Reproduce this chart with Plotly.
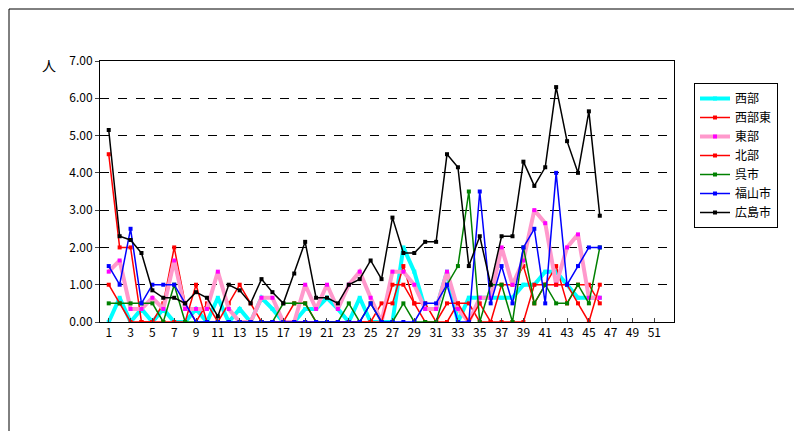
import plotly.graph_objects as go

weeks = list(range(1, 47))
seibu = [0,0.65,0,0.35,0,0.35,0,0,0.35,0,0.65,0,0.35,0,0.65,0.35,0,0,0.35,0.35,0.65,0.35,0,0.65,0,0,0,2.0,1.35,0.35,0.35,1.35,0,0.65,0.65,0.65,0.65,0.65,1.0,1.0,1.35,1.35,1.0,0.65,0.65,0.65]
seibuhigashi = [4.5,2.0,2.0,0,0,0.5,2.0,0.5,0,0.5,0,0.5,1.0,0.5,0,0,0,0.5,0.5,0,0,0,0,0,0,0.5,0.5,1.5,0.5,0.5,0,0,0.5,0.5,0,0,1.0,1.0,1.5,0.5,1.0,1.5,0.5,1.0,1.0,0.5]
toubu = [1.35,1.65,0.35,0.35,0.65,0.35,1.65,0.35,0.35,0.35,1.35,0.35,0,0,0.65,0.65,0,0,1.0,0.35,1.0,0.35,1.0,1.35,0.65,0,1.35,1.35,1.0,0.35,0.35,1.35,0.35,0,0.65,0.65,2.0,1.0,1.65,3.0,2.65,1.0,2.0,2.35,0.65,0.65]
hokubu = [1.0,0.5,0,0,0,0,0,0,1.0,0,0,0,0,0,0,0,0,0,0,0,0,0,0,0,0,0,1.0,1.0,0.5,0,0,0.5,0.5,0,0.5,0,0,0,0,1.0,1.0,1.0,1.0,0.5,0,1.0]
kure = [0.5,0.5,0.5,0.5,0.5,0,1.0,0,0,0,0,0,0,0,0,0,0.5,0.5,0.5,0,0,0,0.5,0,0.5,0,0,0.5,0,0,0,1.0,1.5,3.5,0,1.0,1.0,0,2.0,0.5,1.0,0.5,0.5,1.0,0.5,2.0]
fukuyama = [1.5,1.0,2.5,0.5,1.0,1.0,1.0,0.5,0,0,0,0,0,0,0,0,0,0,0,0,0,0,0,0,0.5,0,0,0,0,0.5,0.5,1.0,0,0,3.5,0.5,1.5,0.5,2.0,2.5,0.5,4.0,1.0,1.5,2.0,2.0]
hiroshima = [5.15,2.3,2.2,1.85,0.85,0.65,0.65,0.5,0.8,0.65,0.15,1.0,0.85,0.5,1.15,0.8,0.5,1.3,2.15,0.65,0.65,0.5,1.0,1.15,1.65,1.15,2.8,1.85,1.85,2.15,2.15,4.5,4.15,1.5,2.3,1.0,2.3,2.3,4.3,3.65,4.15,6.3,4.85,4.0,5.65,2.85]
xticks = list(range(1, 52, 2))

series = [
    ("西部", seibu, "#00FFFF", 4, "#00FFFF"),
    ("西部東", seibuhigashi, "#FF0000", 1.5, "#FF0000"),
    ("東部", toubu, "#FF99CC", 4, "#FF00FF"),
    ("北部", hokubu, "#FF0000", 1.5, "#FF0000"),
    ("呉市", kure, "#008000", 1.5, "#008000"),
    ("福山市", fukuyama, "#0000FF", 1.5, "#0000FF"),
    ("広島市", hiroshima, "#000000", 1.5, "#000000"),
]
fig = go.Figure()
for name, ys, col, w, mcol in series:
    fig.add_trace(go.Scatter(x=weeks, y=ys, name=name, mode="lines+markers",
                             line=dict(color=col, width=w),
                             marker=dict(symbol="square", size=4, color=mcol)))

L, R, T, B = 92, 136, 53, 117
PW, PH = 802 - L - R, 431 - T - B
fig.update_layout(
    width=802, height=431, paper_bgcolor="white", plot_bgcolor="white",
    margin=dict(l=L, r=R, t=T, b=B, autoexpand=False),
    font=dict(family="Noto Sans CJK JP", size=12, color="black"),
    xaxis=dict(range=[0.2, 52.8], tickvals=xticks, showgrid=False, showline=True,
               linecolor="black", mirror=True, ticks="inside", ticklen=4, zeroline=False,
               automargin=False),
    yaxis=dict(range=[0, 7], tickvals=[0,1,2,3,4,5,6,7], tickformat=".2f",
               showgrid=True, gridcolor="black", griddash="dash", gridwidth=1,
               showline=True, linecolor="black", mirror=True, ticks="outside", ticklen=4,
               zeroline=False, automargin=False),
    legend=dict(x=(686 - L) / PW, y=1 - (75 - T) / PH, xanchor="left", yanchor="top",
                bordercolor="black", borderwidth=1, font=dict(size=12), tracegroupgap=2),
    shapes=[dict(type="rect", xref="paper", yref="paper", x0=-(L - 1) / PW, x1=1 + (R - 1) / PW,
                 y0=-(B - 1) / PH, y1=1 + (T - 1) / PH, line=dict(color="black", width=1))],
    annotations=[
        dict(text="人", xref="paper", yref="paper", x=-(L - 32) / PW, y=1 + (T - 45) / PH,
             showarrow=False, font=dict(size=14)),
        dict(text="週", xref="paper", yref="paper", x=1 + (711 - 802 + R) / PW, y=-(398 - 431 + PH + T) / PH + 0,
             showarrow=False, font=dict(size=14)),
    ],
)
fig.write_html("out.html")
